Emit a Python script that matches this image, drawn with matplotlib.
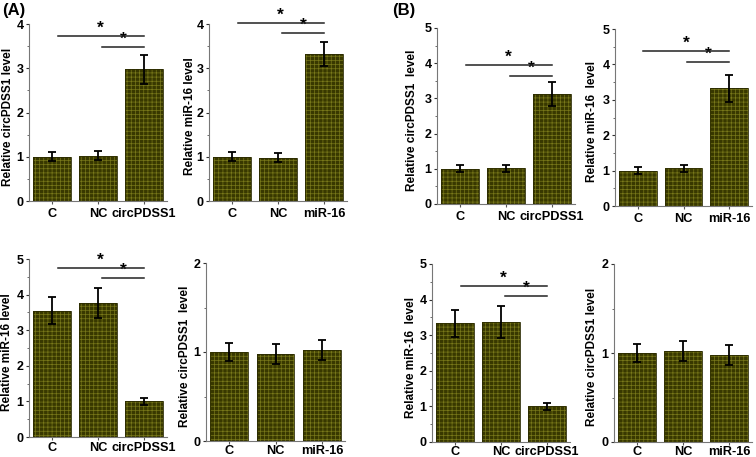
import matplotlib
matplotlib.use("Agg")
import matplotlib.pyplot as plt
from matplotlib.ticker import MultipleLocator

plt.rcParams['font.family'] = ['Liberation Sans', 'DejaVu Sans']
plt.rcParams['font.weight'] = 'bold'
plt.rcParams['hatch.linewidth'] = 0.5

# ---- data ----
cats_circ = ["C", "NC", "circPDSS1"]
cats_mir = ["C", "NC", "miR-16"]

A1_vals = [1.00, 1.02, 2.98]; A1_err = [0.10, 0.10, 0.33]
A2_vals = [1.00, 0.98, 3.32]; A2_err = [0.10, 0.10, 0.28]
A3_vals = [3.55, 3.77, 1.00]; A3_err = [0.38, 0.42, 0.10]
A4_vals = [1.00, 0.98, 1.02]; A4_err = [0.10, 0.11, 0.11]
B1_vals = [1.00, 1.02, 3.12]; B1_err = [0.10, 0.10, 0.35]
B2_vals = [1.00, 1.06, 3.33]; B2_err = [0.10, 0.10, 0.38]
B3_vals = [3.34, 3.37, 1.00]; B3_err = [0.38, 0.44, 0.10]
B4_vals = [1.00, 1.02, 0.98]; B4_err = [0.10, 0.11, 0.11]

# significance line heights (long, short)
A1_sig = [3.73, 3.48]
A2_sig = [4.02, 3.80]
A3_sig = [4.75, 4.47]
B1_sig = [3.95, 3.64]
B2_sig = [4.38, 4.07]
B3_sig = [4.38, 4.10]

W, H = 756, 457
fig = plt.figure(figsize=(W/100, H/100), dpi=100)

def make_ax(left, right, y0, ytop):
    return fig.add_axes([left/W, 1 - y0/H, (right-left)/W, (y0-ytop)/H])

face = '#383800'
hatchc = '#78781a'

def panel(ax, box, cats, vals, errs, ymax, ylabel, label_x, sig=None, xpad=2.5):
    left, right, y0, ytop = box
    x = list(range(len(cats)))
    ax.bar(x, vals, width=0.82, color=face, edgecolor=hatchc, hatch='++++', linewidth=0, zorder=2)
    ax.bar(x, vals, width=0.82, color='none', edgecolor='#2a2a00', linewidth=0.6, zorder=3)
    ax.errorbar(x, vals, yerr=errs, fmt='none', ecolor='black', elinewidth=1.3, capsize=3, capthick=1.3, zorder=4)
    ax.set_xlim(-0.5, 2.5)
    ax.set_ylim(0, ymax)
    ax.set_xticks(x)
    ax.set_xticklabels(cats, fontsize=9.2, fontweight='bold')
    ax.yaxis.set_major_locator(MultipleLocator(1))
    ax.yaxis.set_minor_locator(MultipleLocator(0.5))
    ax.tick_params(axis='y', labelsize=9, length=2.5, width=0.8, direction='out', colors='#333333', labelcolor='black', pad=1.5)
    ax.tick_params(axis='y', which='minor', length=1.8, width=0.6, colors='#555555')
    ax.tick_params(axis='x', length=2.5, width=0.8, direction='out', colors='#555555', labelcolor='black', pad=xpad)
    for lab in ax.get_yticklabels():
        lab.set_fontweight('bold')
    for s in ['top', 'right']:
        ax.spines[s].set_visible(False)
    for s in ['left', 'bottom']:
        ax.spines[s].set_color('#777777')
        ax.spines[s].set_linewidth(0.8)
    yc = (y0 + ytop) / 2 + 4
    fig.text(label_x / W, 1 - yc / H, ylabel, rotation=90, ha='center', va='center',
             fontsize=8.5, fontweight='bold')
    if sig is not None:
        hl, hs = sig
        ax.plot([0.12, 2.0], [hl, hl], color='#222222', lw=1.1, zorder=5, clip_on=False)
        ax.plot([1.08, 2.0], [hs, hs], color='#222222', lw=1.1, zorder=5, clip_on=False)
        ax.text(1.06, hl, '*', ha='center', va='bottom', fontsize=12.5, fontweight='bold', clip_on=False)
        ax.text(1.54, hs, '*', ha='center', va='bottom', fontsize=12.5, fontweight='bold', clip_on=False)

def add(box, *args, **kw):
    ax = make_ax(*box)
    panel(ax, box, *args, **kw)
    return ax

add((29, 167, 201, 24), cats_circ, A1_vals, A1_err, 4, "Relative circPDSS1 level", 8, A1_sig)
add((209, 347, 201, 24), cats_mir, A2_vals, A2_err, 4, "Relative miR-16 level", 190, A2_sig)
add((437, 575, 204, 28), cats_circ, B1_vals, B1_err, 5, "Relative circPDSS1  level", 412, B1_sig)
add((615, 752, 206, 29), cats_mir, B2_vals, B2_err, 5, "Relative miR-16  level", 592, B2_sig)
add((29, 167, 437, 259), cats_circ, A3_vals, A3_err, 5, "Relative miR-16 level", 7, A3_sig, xpad=1)
add((206, 345, 441, 263), cats_mir, A4_vals, A4_err, 2, "Relative circPDSS1  level", 185, xpad=0.5)
add((432, 570, 442, 264), cats_circ, B3_vals, B3_err, 5, "Relative miR-16  level", 411, B3_sig, xpad=0.3)
add((614, 752, 442, 264), cats_mir, B4_vals, B4_err, 2, "Relative circPDSS1 level", 592, xpad=0.3)

fig.text(2/W, 1 - 11/H, "(A)", fontsize=12, fontweight='bold', va='center', ha='left')
fig.text(392/W, 1 - 11/H, "(B)", fontsize=12, fontweight='bold', va='center', ha='left')

fig.savefig("out.png", dpi=100)
